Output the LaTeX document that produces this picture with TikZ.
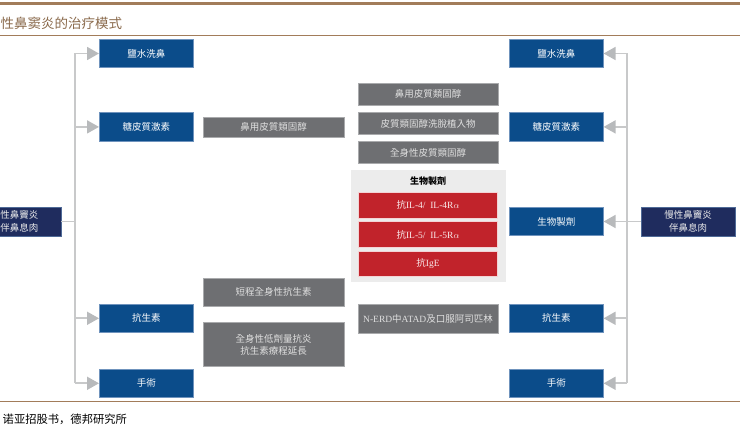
\documentclass[tikz,border=0pt]{standalone}
\usepackage{fontspec}
\setmainfont{Liberation Serif}
\newfontfamily\cjk{Noto Sans CJK TC}
\newfontfamily\cjksc{Noto Sans CJK SC}
\usetikzlibrary{arrows.meta}
\definecolor{brownline}{HTML}{A27C5A}
\definecolor{titlebrown}{HTML}{8A6A4C}
\definecolor{bluebox}{HTML}{0B4C8A}
\definecolor{blueedge}{HTML}{6F93BD}
\definecolor{navybox}{HTML}{1F2C5E}
\definecolor{graybox}{HTML}{6E6F72}
\definecolor{grayedge}{HTML}{A9AAAC}
\definecolor{redbox}{HTML}{C1232B}
\definecolor{paneltone}{HTML}{ECECEC}
\definecolor{linegray}{HTML}{C8C9CA}
\definecolor{tipgray}{HTML}{B8BABC}
\tikzset{
  boxtext/.style={font=\cjk\fontsize{9.5}{12.5}\selectfont, align=center, inner sep=0pt},
  bluenode/.style={boxtext, fill=bluebox, draw=blueedge, line width=0.6pt, text=white, minimum width=94pt, minimum height=28.4pt},
  rootnode/.style={boxtext, fill=navybox, draw=blueedge!60!navybox, line width=0.6pt, text=white!92!black, minimum width=94pt, minimum height=29pt},
  graynode/.style={boxtext, fill=graybox, draw=grayedge, line width=0.6pt, text=white!88!black, minimum width=141pt},
  midnode/.style={boxtext, fill=graybox, draw=grayedge, line width=0.6pt, text=white!88!black, minimum width=140pt},
  rednode/.style={boxtext, fill=redbox, draw=white!80!redbox, line width=0.5pt, text=white!90!redbox, minimum width=139.4pt},
  conn/.style={draw=linegray, line width=1.8pt},
  arrowconn/.style={conn, -{Triangle[length=12pt,width=13pt,color=tipgray]}},
}
\begin{document}
\begin{tikzpicture}[x=1pt,y=-1pt]
\useasboundingbox (0,0) rectangle (740,430);
\clip (0,0) rectangle (740,430);
% header / footer rules
\draw[brownline, line width=2.4pt] (0,3.5) -- (740,3.5);
\draw[brownline, line width=1pt] (0,35.8) -- (740,35.8);
\draw[brownline, line width=1pt] (0,401.8) -- (740,401.8);
\node[anchor=west, inner sep=0pt, text=titlebrown, font=\cjksc\fontsize{13.5}{15}\selectfont] (title) at (0.5,23) {性鼻窦炎的治疗模式};
\node[anchor=west, inner sep=0pt, font=\cjksc\fontsize{11.3}{13}\selectfont] (source) at (2.5,419) {诺亚招股书，德邦研究所};

% roots
\node[rootnode] (lroot) at (14,221.5) {};
\node[boxtext, anchor=east, align=right, text=white!92!black] (lroottext) at (38.5,221.5) {性鼻竇炎\\伴鼻息肉};
\node[rootnode] (rroot) at (688,221.5) {慢性鼻竇炎\\伴鼻息肉};

% left blue column
\node[bluenode] (l1) at (146.3,53.5) {鹽水洗鼻};
\node[bluenode] (l2) at (146.3,126.9) {糖皮質激素};
\node[bluenode] (l3) at (146.3,318.3) {抗生素};
\node[bluenode] (l4) at (146.3,383.3) {手術};

% right blue column
\node[bluenode] (r1) at (556.3,53.5) {鹽水洗鼻};
\node[bluenode] (r2) at (556.3,126.9) {糖皮質激素};
\node[bluenode] (r3) at (556.3,221.5) {生物製劑};
\node[bluenode] (r4) at (556.3,318.3) {抗生素};
\node[bluenode] (r5) at (556.3,383.3) {手術};

% left gray column
\node[graynode, minimum height=20.7pt] (g1) at (273.5,127.3) {鼻用皮質類固醇};
\node[graynode, minimum height=28.7pt] (g2) at (273.5,292.3) {短程全身性抗生素};
\node[graynode, minimum height=44pt] (g3) at (273.5,344.7) {全身性低劑量抗炎\\抗生素療程延長};

% middle column
\node[midnode, minimum height=22pt] (m1) at (428,94) {鼻用皮質類固醇};
\node[midnode, minimum height=21.6pt] (m2) at (428,123.5) {皮質類固醇洗脫植入物};
\node[midnode, minimum height=21.6pt] (m3) at (428,152.5) {全身性皮質類固醇};
\node[fill=paneltone, minimum width=155pt, minimum height=112pt, inner sep=0pt] (panel) at (428.5,226) {};
\node[boxtext, font=\cjk\fontsize{9}{11}\selectfont\bfseries] (ptitle) at (428,181) {生物製劑};
\node[rednode, minimum height=26pt, font=\fontsize{9.5}{11}\selectfont] (b1) at (428,205.3) {{\cjk 抗}IL-4/\ \ IL-4R$\alpha$};
\node[rednode, minimum height=25.6pt, font=\fontsize{9.5}{11}\selectfont] (b2) at (428,234.5) {{\cjk 抗}IL-5/\ \ IL-5R$\alpha$};
\node[rednode, minimum height=25.7pt, font=\fontsize{9.5}{11}\selectfont] (b3) at (428,263.8) {{\cjk 抗}IgE};
\node[midnode, minimum height=29.3pt, font=\fontsize{9.5}{11}\selectfont] (m4) at (428,318.7) {N-ERD{\cjk 中}ATAD{\cjk 及口服阿司匹林}};

% left connectors
\coordinate (lv1) at (75,53.5);
\coordinate (lv2) at (75,126.9);
\coordinate (lvr) at (75,221.5);
\coordinate (lv3) at (75,318.3);
\coordinate (lv4) at (75,383.3);
\draw[conn] (lv1) -- (lv4);
\draw[conn] (lroot.east) -- (lvr);
\draw[arrowconn] (lv1) -- (l1.west);
\draw[arrowconn] (lv2) -- (l2.west);
\draw[arrowconn] (lv3) -- (l3.west);
\draw[arrowconn] (lv4) -- (l4.west);

% right connectors
\coordinate (rv1) at (627,53.5);
\coordinate (rv2) at (627,126.9);
\coordinate (rvr) at (627,221.5);
\coordinate (rv4) at (627,318.3);
\coordinate (rv5) at (627,383.3);
\draw[conn] (rv1) -- (rv5);
\draw[conn] (rroot.west) -- (rvr);
\draw[arrowconn] (rv1) -- (r1.east);
\draw[arrowconn] (rv2) -- (r2.east);
\draw[arrowconn] (rvr) -- (r3.east);
\draw[arrowconn] (rv4) -- (r4.east);
\draw[arrowconn] (rv5) -- (r5.east);
\end{tikzpicture}
\end{document}
